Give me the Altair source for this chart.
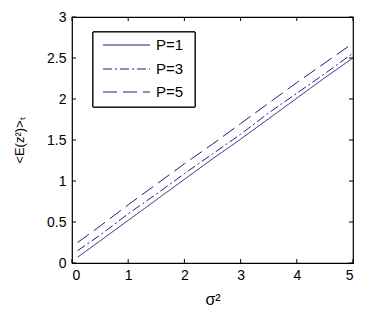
import altair as alt
import pandas as pd

x_vals = [0.1, 0.5, 1.0, 1.5, 2.0, 2.5, 3.0, 3.5, 4.0, 4.5, 5.0]
p1 = [0.07, 0.27, 0.52, 0.77, 1.02, 1.27, 1.51, 1.76, 2.01, 2.26, 2.50]
p3 = [0.15, 0.34, 0.60, 0.84, 1.09, 1.33, 1.57, 1.83, 2.07, 2.31, 2.56]
p5 = [0.25, 0.45, 0.71, 0.96, 1.21, 1.45, 1.70, 1.95, 2.20, 2.44, 2.68]
series = ["P=1", "P=3", "P=5"]
x_ticks = [0, 1, 2, 3, 4, 5]
y_ticks = [0, 0.5, 1, 1.5, 2, 2.5, 3]

rows = []
for name, ys in zip(series, [p1, p3, p5]):
    for xv, yv in zip(x_vals, ys):
        rows.append({"x": xv, "y": yv, "P": name})
df = pd.DataFrame(rows)
leg = pd.DataFrame({"P": series})

W, H = 281, 246
color = "#1e1e80"
font = "Liberation Sans"
dashes = [[1, 0], [9, 3, 2, 3], [14, 6]]
leg_rows = [28, 52, 75]

xs = alt.Scale(domain=[0, 5], nice=False)
ys = alt.Scale(domain=[0, 3], nice=False)
dash_scale = alt.Scale(domain=series, range=dashes)

ax_x = alt.Axis(values=x_ticks, format="d", title="σ²", ticks=False,
                grid=False, domain=False, labelPadding=5,
                titlePadding=9, titleFontSize=16)
ax_y = alt.Axis(values=y_ticks, format="~g", title="<E(z²)>ₜ", ticks=False,
                grid=False, domain=False, labelPadding=6,
                titlePadding=20, titleFontSize=13)

lines = alt.Chart(df).mark_line(strokeWidth=1, color=color).encode(
    x=alt.X("x:Q", scale=xs, axis=ax_x, title="σ²"),
    y=alt.Y("y:Q", scale=ys, axis=ax_y, title="<E(z²)>ₜ"),
    strokeDash=alt.StrokeDash("P:N", scale=dash_scale, legend=None),
)

xt = pd.DataFrame({"v": x_ticks})
yt = pd.DataFrame({"v": y_ticks})
xe = alt.X("v:Q", scale=xs, axis=ax_x, title="σ²")
ye = alt.Y("v:Q", scale=ys, axis=ax_y, title="<E(z²)>ₜ")
xb = alt.Chart(xt).mark_rule(color="black").encode(x=xe, y=alt.value(H), y2=alt.value(H - 4))
xtp = alt.Chart(xt).mark_rule(color="black").encode(x=xe, y=alt.value(0), y2=alt.value(4))
yl = alt.Chart(yt).mark_rule(color="black").encode(y=ye, x=alt.value(0), x2=alt.value(4))
yr = alt.Chart(yt).mark_rule(color="black").encode(y=ye, x=alt.value(W), x2=alt.value(W - 4))

layers = [lines, xb, xtp, yl, yr]
layers.append(alt.Chart(leg).mark_rect(fill="white", stroke="black", strokeWidth=1).encode(
    x=alt.value(21), x2=alt.value(123), y=alt.value(15), y2=alt.value(90)))
for name, d, ry in zip(series, dashes, leg_rows):
    sub = alt.Chart(leg).transform_filter(alt.datum.P == name)
    layers.append(sub.mark_rule(color=color, strokeWidth=1, strokeDash=d).encode(
        x=alt.value(31), x2=alt.value(78), y=alt.value(ry)))
    layers.append(sub.mark_text(align="left", baseline="middle", font=font, fontSize=15,
                                color="black").encode(x=alt.value(84), y=alt.value(ry), text="P:N"))

chart = alt.layer(*layers).properties(
    width=W, height=H,
    background="white",
    autosize=alt.AutoSizeParams(type="none"),
    padding={"left": 64, "top": 9, "right": 20, "bottom": 48},
).configure_view(stroke="black", strokeWidth=1.2).configure_axis(
    labelFont=font, titleFont=font, labelFontSize=14, labelColor="black",
    titleColor="black", titleFontWeight="normal"
)

chart.save("out.html", embed_options={"renderer": "svg", "actions": False})
